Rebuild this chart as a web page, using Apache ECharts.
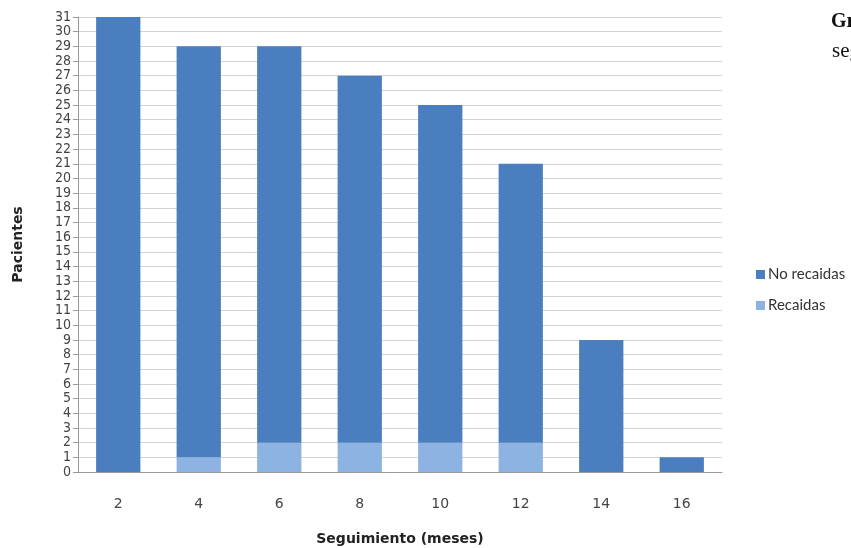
<!DOCTYPE html>
<html><head><meta charset="utf-8">
<script src="https://cdn.jsdelivr.net/npm/echarts@6/dist/echarts.min.js"></script>
<style>html,body{margin:0;padding:0;background:#fff}#c{width:851px;height:548px}</style>
</head><body><div id="c"></div>
<script>
const categories = ['2','4','6','8','10','12','14','16'];
const recaidas = [0,1,2,2,2,2,0,0];
const noRecaidas = [31,28,27,25,23,19,9,1];
const chart = echarts.init(document.getElementById('c'));
chart.setOption({
  animation:false,
  backgroundColor:'#fff',
  grid:{left:78,right:129,top:17,bottom:76,containLabel:false,outerBoundsMode:'none'},
  legend:{
    orient:'vertical', left:751, top:262, itemWidth:9, itemHeight:9, itemGap:16,
    icon:'rect', itemStyle:{borderWidth:0}, itemGap:16,
    textStyle:{fontFamily:'Lato',fontSize:15,color:'#333',padding:[0,0,0,-2]},
    data:['No recaidas','Recaidas']
  },
  graphic:[
    {type:'text',left:831,top:12,style:{text:'Gráfico',font:'bold 20px "Liberation Serif"',fill:'#111'}},
    {type:'text',left:832,top:41,style:{text:'seguimiento',font:'21px "Liberation Serif"',fill:'#111'}}
  ],
  xAxis:{
    type:'category', data:categories,
    name:'Seguimiento (meses)', nameLocation:'middle', nameGap:60,
    nameTextStyle:{fontFamily:'DejaVu Sans',fontWeight:'bold',fontSize:14,color:'#222'},
    axisLine:{lineStyle:{color:'#999'}}, axisTick:{show:false},
    axisLabel:{margin:25,fontFamily:'DejaVu Sans',fontSize:14,color:'#444'}
  },
  yAxis:{
    type:'value', min:0, max:31, interval:1,
    name:'Pacientes', nameLocation:'middle', nameGap:53,
    nameTextStyle:{fontFamily:'DejaVu Sans',fontWeight:'bold',fontSize:14,color:'#222'},
    axisLine:{show:true,lineStyle:{color:'#999'}},
    axisTick:{show:true,length:5,lineStyle:{color:'#999'}},
    axisLabel:{margin:7,fontFamily:'DejaVu Sans Condensed',fontSize:14,color:'#444',lineHeight:14},
    splitLine:{lineStyle:{color:'#d4d4d4'}}
  },
  series:[
    {name:'Recaidas',type:'bar',stack:'t',data:recaidas,barWidth:'55%',itemStyle:{color:'#8db3e2'}},
    {name:'No recaidas',type:'bar',stack:'t',data:noRecaidas,barWidth:'55%',itemStyle:{color:'#4a7ebf'}}
  ]
});
</script></body></html>
